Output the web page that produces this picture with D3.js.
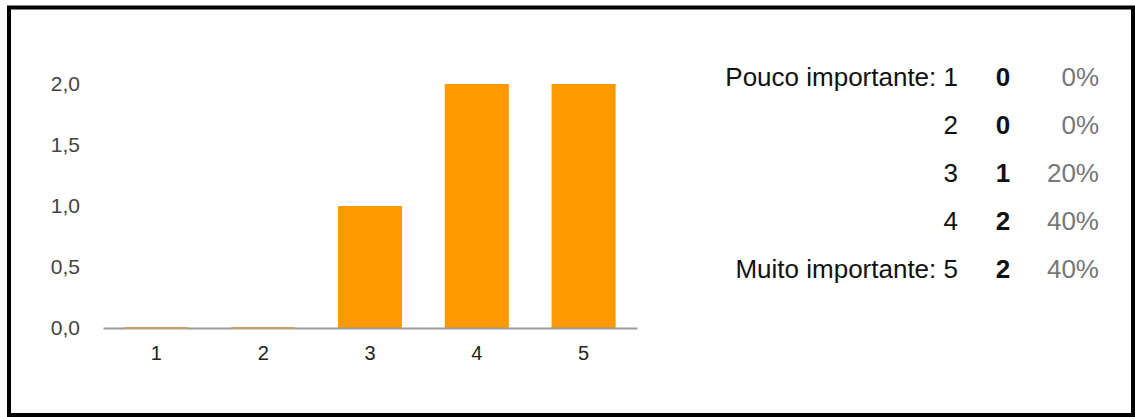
<!DOCTYPE html>
<html>
<head>
<meta charset="utf-8">
<script src="https://cdn.jsdelivr.net/npm/d3@7"></script>
<style>
  html, body { margin: 0; padding: 0; background: #fff; }
  svg { display: block; }
  text { font-family: "Liberation Sans", Arial, sans-serif; }
</style>
</head>
<body>
<svg id="chart" width="1135" height="417"></svg>
<script>
// Survey answers on a 1–5 importance scale
const categories = ["1", "2", "3", "4", "5"];
const counts = [0, 0, 1, 2, 2];
const yTicks = [0, 0.5, 1, 1.5, 2];
const rowLabels = ["Pouco importante: 1", "2", "3", "4", "Muito importante: 5"];
const percents = ["0%", "0%", "20%", "40%", "40%"];

const svg = d3.select("#chart");

// outer frame
svg.append("rect")
  .attr("x", 9).attr("y", 7.5)
  .attr("width", 1124).attr("height", 407.5)
  .attr("fill", "#fff")
  .attr("stroke", "#000")
  .attr("stroke-width", 4);

const x = d3.scaleBand()
  .domain(categories)
  .range([103, 637])
  .paddingInner(0.4)
  .paddingOuter(0.2);

const y = d3.scaleLinear()
  .domain([0, 2])
  .range([328, 84]);

const fmt = v => d3.format(".1f")(v).replace(".", ",");

// y tick labels (no axis line)
const yAxis = d3.axisLeft(y).tickValues(yTicks).tickFormat(fmt).tickSize(0).tickPadding(0);
const gy = svg.append("g").attr("transform", "translate(80,0)").call(yAxis);
gy.select(".domain").remove();
gy.selectAll("text")
  .attr("fill", "#444")
  .style("font-size", "21px")
  .style("font-family", "'Liberation Sans', Arial, sans-serif");

// bars
svg.append("g").selectAll("rect")
  .data(counts)
  .join("rect")
  .attr("x", (d, i) => x(categories[i]))
  .attr("width", x.bandwidth())
  .attr("y", d => y(d))
  .attr("height", d => y(0) - y(d))
  .attr("fill", "#ff9900");

// baseline axis
const xAxis = d3.axisBottom(x).tickSize(0).tickPadding(18);
const gx = svg.append("g").attr("transform", `translate(0,${y(0)})`).call(xAxis);
gx.select(".domain").attr("stroke", "#999").attr("stroke-width", 2);
gx.selectAll("text")
  .attr("fill", "#222")
  .style("font-size", "20px")
  .style("font-family", "'Liberation Sans', Arial, sans-serif");

// zero-value bars show as a faint orange tint on the baseline
svg.append("g").selectAll("line")
  .data(counts.map((d, i) => ({ d, c: categories[i] })).filter(o => o.d === 0))
  .join("line")
  .attr("x1", o => x(o.c))
  .attr("x2", o => x(o.c) + x.bandwidth())
  .attr("y1", y(0)).attr("y2", y(0))
  .attr("stroke", "#c8a070")
  .attr("stroke-width", 2);

// summary table
const rowY = d3.scalePoint().domain(d3.range(rowLabels.length)).range([86, 278]);
const table = svg.append("g").style("font-size", "26px");

table.selectAll(".lab")
  .data(rowLabels)
  .join("text")
  .attr("class", "lab")
  .attr("x", 958)
  .attr("y", (d, i) => rowY(i))
  .attr("text-anchor", "end")
  .attr("fill", "#111")
  .text(d => d);

table.selectAll(".cnt")
  .data(counts)
  .join("text")
  .attr("class", "cnt")
  .attr("x", 1003)
  .attr("y", (d, i) => rowY(i))
  .attr("text-anchor", "middle")
  .attr("font-weight", "bold")
  .attr("fill", "#111")
  .text(d => d);

table.selectAll(".pct")
  .data(percents)
  .join("text")
  .attr("class", "pct")
  .attr("x", 1099)
  .attr("y", (d, i) => rowY(i))
  .attr("text-anchor", "end")
  .attr("fill", "#777")
  .text(d => d);
</script>
</body>
</html>
